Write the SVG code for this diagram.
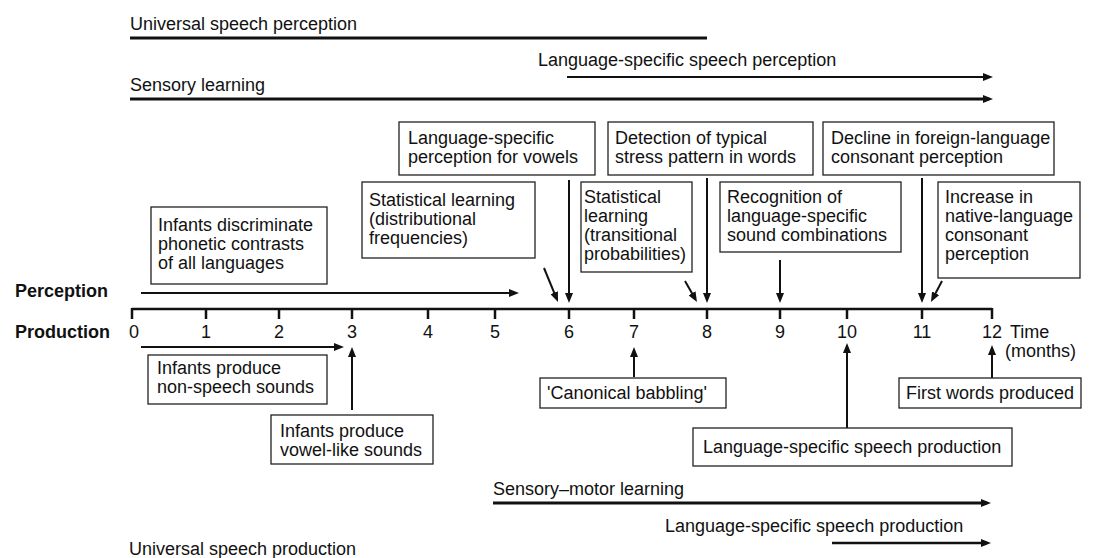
<svg xmlns="http://www.w3.org/2000/svg" width="1095" height="558" viewBox="0 0 1095 558">
<defs>
<style>
text{font-family:"Liberation Sans",Arial,Helvetica,sans-serif;font-size:18px;fill:#111}
.b{font-weight:bold}
.m{text-anchor:middle}
.box{fill:#fff;stroke:#222;stroke-width:1.3}
.ln{stroke:#111;stroke-width:2;fill:none}
.th{stroke:#111;stroke-width:3;fill:none}
.ar{stroke:#111;stroke-width:2;fill:none;marker-end:url(#ah)}
.art{stroke:#111;stroke-width:3;fill:none;marker-end:url(#ah)}
</style>
<marker id="ah" markerUnits="userSpaceOnUse" markerWidth="10" markerHeight="8" refX="6" refY="4" orient="auto">
<path d="M0,0 L10,4 L0,8 z" fill="#111"/>
</marker>
</defs>
<rect width="1095" height="558" fill="#fff"/>

<g id="labels">
<text x="130" y="30">Universal speech perception</text>
<text x="538" y="66">Language-specific speech perception</text>
<text x="130" y="91">Sensory learning</text>
<text class="b" x="15" y="297">Perception</text>
<text class="b" x="15" y="338">Production</text>
<text x="1010" y="338">Time</text>
<text x="1005" y="357">(months)</text>
<text x="493" y="495">Sensory–motor learning</text>
<text x="665" y="532">Language-specific speech production</text>
<text x="129" y="555">Universal speech production</text>
</g>

<g id="axis">
<line class="ln" x1="132" y1="309" x2="992" y2="309" style="stroke-width:2.5"/>
<path class="ln" style="stroke-width:2.5" d="M132,308V319M206,309V319M279,309V319M352,309V319M428,309V319M495,309V319M569,309V319M634,309V319M707,309V319M780,309V319M847,309V319M922,309V319M992,308V319"/>
<text class="m" x="134" y="338">0</text>
<text class="m" x="206" y="338">1</text>
<text class="m" x="279" y="338">2</text>
<text class="m" x="352" y="338">3</text>
<text class="m" x="428" y="338">4</text>
<text class="m" x="495" y="338">5</text>
<text class="m" x="569" y="338">6</text>
<text class="m" x="634" y="338">7</text>
<text class="m" x="707" y="338">8</text>
<text class="m" x="780" y="338">9</text>
<text class="m" x="847" y="338">10</text>
<text class="m" x="922" y="338">11</text>
<text class="m" x="992" y="338">12</text>
</g>

<g id="connectors">
<line class="th" x1="130" y1="38" x2="707" y2="38"/>
<line class="ar" x1="567" y1="77" x2="989" y2="77"/>
<line class="art" x1="130" y1="99" x2="989" y2="99"/>
<line class="ar" x1="141" y1="293" x2="515" y2="293"/>
<line class="ar" x1="569" y1="180" x2="569" y2="299"/>
<line class="ar" x1="544" y1="268" x2="556.5" y2="298.3"/>
<line class="ar" x1="707" y1="178" x2="707" y2="299"/>
<line class="ar" x1="685" y1="281" x2="695" y2="298.5"/>
<line class="ar" x1="780" y1="260" x2="780" y2="299"/>
<line class="ar" x1="922" y1="178" x2="922" y2="299"/>
<line class="ar" x1="942" y1="281" x2="932.8" y2="298.5"/>
<line class="ar" x1="141" y1="347" x2="340" y2="347"/>
<line class="ar" x1="352" y1="410" x2="352" y2="351"/>
<line class="ar" x1="634" y1="377" x2="634" y2="351"/>
<line class="ar" x1="847" y1="428" x2="847" y2="347"/>
<line class="ar" x1="992" y1="378" x2="992" y2="349"/>
<line class="art" x1="493" y1="503" x2="987" y2="503"/>
<line class="ar" x1="832" y1="543" x2="987" y2="543" style="stroke-width:2.5"/>
</g>

<g id="n-vowels">
<rect class="box" x="399" y="122" width="196" height="53"/>
<text x="408" y="144">Language-specific</text>
<text x="408" y="163">perception for vowels</text>
</g>
<g id="n-stress">
<rect class="box" x="608" y="122" width="205" height="53"/>
<text x="615" y="144">Detection of typical</text>
<text x="615" y="163">stress pattern in words</text>
</g>
<g id="n-decline">
<rect class="box" x="823" y="122" width="231" height="53"/>
<text x="831" y="144">Decline in foreign-language</text>
<text x="831" y="163">consonant perception</text>
</g>
<g id="n-stat-dist">
<rect class="box" x="362" y="182" width="173" height="76"/>
<text x="369" y="206">Statistical learning</text>
<text x="369" y="225">(distributional</text>
<text x="369" y="244">frequencies)</text>
</g>
<g id="n-stat-trans">
<rect class="box" x="581" y="182" width="111" height="90"/>
<text x="584" y="203">Statistical</text>
<text x="584" y="222">learning</text>
<text x="584" y="241">(transitional</text>
<text x="584" y="260">probabilities)</text>
</g>
<g id="n-recognition">
<rect class="box" x="720" y="182" width="181" height="70"/>
<text x="727" y="203">Recognition of</text>
<text x="727" y="222">language-specific</text>
<text x="727" y="241">sound combinations</text>
</g>
<g id="n-increase">
<rect class="box" x="938" y="182" width="142" height="96"/>
<text x="945" y="203">Increase in</text>
<text x="945" y="222">native-language</text>
<text x="945" y="241">consonant</text>
<text x="945" y="260">perception</text>
</g>
<g id="n-discriminate">
<rect class="box" x="151" y="207" width="176" height="77"/>
<text x="158" y="231">Infants discriminate</text>
<text x="158" y="250">phonetic contrasts</text>
<text x="158" y="269">of all languages</text>
</g>
<g id="n-nonspeech">
<rect class="box" x="148" y="355" width="179" height="49"/>
<text x="157" y="374">Infants produce</text>
<text x="157" y="393">non-speech sounds</text>
</g>
<g id="n-vowellike">
<rect class="box" x="271" y="415" width="162" height="49"/>
<text x="280" y="437">Infants produce</text>
<text x="280" y="456">vowel-like sounds</text>
</g>
<g id="n-babbling">
<rect class="box" x="540" y="378" width="186" height="30"/>
<text x="547" y="399">'Canonical babbling'</text>
</g>
<g id="n-firstwords">
<rect class="box" x="899" y="378" width="182" height="30"/>
<text x="906" y="399">First words produced</text>
</g>
<g id="n-lsprod">
<rect class="box" x="693" y="428" width="319" height="38"/>
<text x="703" y="453">Language-specific speech production</text>
</g>
</svg>
